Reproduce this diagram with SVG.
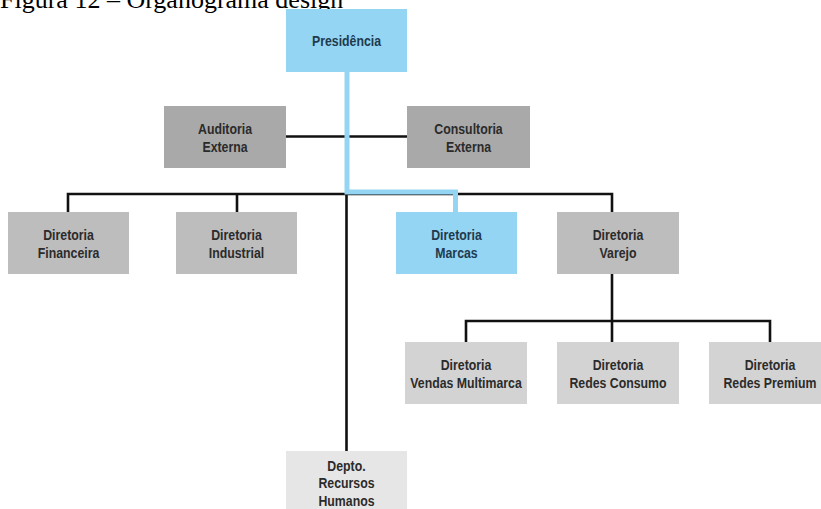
<svg xmlns="http://www.w3.org/2000/svg" width="821" height="509" viewBox="0 0 821 509">
  <style>
    .title { font-family: "Liberation Serif", "Times New Roman", serif; font-size: 26px; fill: #000; }
    .lbl { font-family: "Liberation Sans", Arial, sans-serif; font-weight: bold; font-size: 14px; text-anchor: middle; fill: #2b2b2b;
           transform-box: fill-box; transform-origin: center; transform: scaleX(0.88); }
    .lbl.blue { fill: #1f3a4e; }
    .box-blue { fill: #93d5f3; }
    .box-dark { fill: #a9a9a9; }
    .box-mid { fill: #bdbdbd; }
    .box-light { fill: #d3d3d3; }
    .box-pale { fill: #e6e6e6; }
    .line { fill: none; stroke: #111; stroke-width: 2.6; }
    .line-blue { fill: none; stroke: #93d5f3; stroke-width: 5; }
  </style>
  <rect width="821" height="509" fill="#fff"/>

  <text class="title" x="0" y="8">Figura 12 – Organograma design</text>

  <!-- connectors -->
  <g id="connectors">
    <path class="line" d="M286 136.5 H407"/>
    <path class="line" d="M68 212 V194 H612 V212"/>
    <path class="line" d="M237 194 V212"/>
    <path class="line" d="M346.5 194 V451"/>
    <path class="line" d="M612 274 V321"/>
    <path class="line" d="M466 342 V321 H770 V342"/>
    <path class="line" d="M612 321 V342"/>
    <path class="line-blue" d="M347 72 V192 H455.5 V212"/>
  </g>

  <g id="presidencia">
    <rect class="box-blue" x="286" y="9" width="121" height="63"/>
    <text class="lbl blue" x="346.5" y="46">Presidência</text>
  </g>

  <g id="auditoria">
    <rect class="box-dark" x="164" y="106" width="122" height="62"/>
    <text class="lbl" x="225" y="134">Auditoria</text>
    <text class="lbl" x="225" y="152">Externa</text>
  </g>

  <g id="consultoria">
    <rect class="box-dark" x="407" y="106" width="123" height="62"/>
    <text class="lbl" x="468.5" y="134">Consultoria</text>
    <text class="lbl" x="468.5" y="152">Externa</text>
  </g>

  <g id="financeira">
    <rect class="box-mid" x="8" y="212" width="121" height="62"/>
    <text class="lbl" x="68.5" y="240.5">Diretoria</text>
    <text class="lbl" x="68.5" y="258.5">Financeira</text>
  </g>

  <g id="industrial">
    <rect class="box-mid" x="176" y="212" width="121" height="62"/>
    <text class="lbl" x="236.5" y="240.5">Diretoria</text>
    <text class="lbl" x="236.5" y="258.5">Industrial</text>
  </g>

  <g id="marcas">
    <rect class="box-blue" x="396" y="212" width="121" height="62"/>
    <text class="lbl blue" x="456.5" y="240.5">Diretoria</text>
    <text class="lbl blue" x="456.5" y="258.5">Marcas</text>
  </g>

  <g id="varejo">
    <rect class="box-mid" x="557" y="212" width="122" height="62"/>
    <text class="lbl" x="618" y="240.5">Diretoria</text>
    <text class="lbl" x="618" y="258.5">Varejo</text>
  </g>

  <g id="vendas-multimarca">
    <rect class="box-light" x="405" y="342" width="122" height="62"/>
    <text class="lbl" x="466" y="370.5">Diretoria</text>
    <text class="lbl" x="466" y="388.5">Vendas Multimarca</text>
  </g>

  <g id="redes-consumo">
    <rect class="box-light" x="557" y="342" width="122" height="62"/>
    <text class="lbl" x="618" y="370.5">Diretoria</text>
    <text class="lbl" x="618" y="388.5">Redes Consumo</text>
  </g>

  <g id="redes-premium">
    <rect class="box-light" x="709" y="342" width="122" height="62"/>
    <text class="lbl" x="770" y="370.5">Diretoria</text>
    <text class="lbl" x="770" y="388.5">Redes Premium</text>
  </g>

  <g id="recursos-humanos">
    <rect class="box-pale" x="286" y="451" width="121" height="62"/>
    <text class="lbl" x="346.5" y="471">Depto.</text>
    <text class="lbl" x="346.5" y="488.5">Recursos</text>
    <text class="lbl" x="346.5" y="506">Humanos</text>
  </g>
</svg>
